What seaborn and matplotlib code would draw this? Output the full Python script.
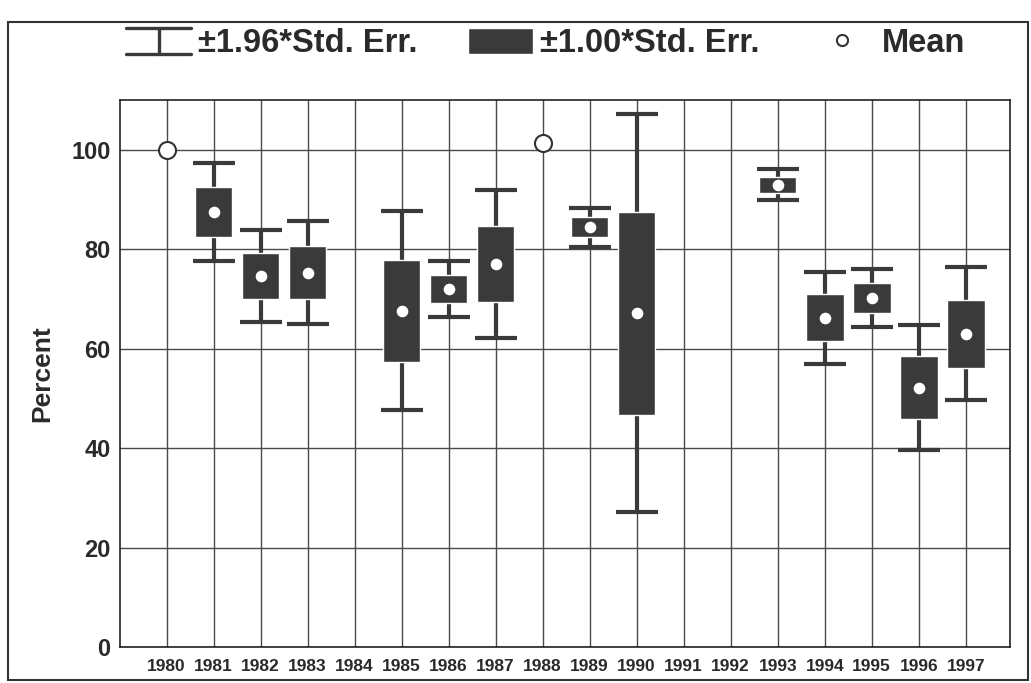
import numpy as np
import pandas as pd
import seaborn as sns
import matplotlib.pyplot as plt
from matplotlib.patches import Patch, Rectangle
from matplotlib.lines import Line2D
from matplotlib.legend_handler import HandlerBase

nan = np.nan
years = [str(y) for y in range(1980, 1998)]
means = [100.0, 87.4, 74.6, 75.3, nan, 67.6, 72.0, 77.0, 101.3, 84.4,
         67.1, nan, nan, 92.9, 66.2, 70.2, 52.2, 63.0]
std_err = [nan, 5.0, 4.7, 5.3, nan, 10.2, 2.9, 7.6, nan, 2.0,
           20.4, nan, nan, 1.6, 4.7, 3.0, 6.4, 6.8]

df = pd.DataFrame({'year': years, 'mean': means, 'se': std_err})
df['pos'] = np.arange(len(df))
boxed = df.dropna(subset=['se'])
only_mean = df[df['se'].isna() & df['mean'].notna()]

sns.set_style('whitegrid', {'grid.color': '#4a4a4a', 'axes.edgecolor': '#222222'})
plt.rcParams['font.family'] = ['Liberation Sans', 'DejaVu Sans']

box_col = '#3a3a3a'
txt_col = '#2a2a2a'


class CapHandler(HandlerBase):
    # the "I" shaped whisker glyph of the legend
    def create_artists(self, legend, orig_handle, xd, yd, w, h, fontsize, trans):
        kw = dict(color=box_col, linewidth=2.4, transform=trans)
        x0, x1 = -xd, -xd + w
        y0, y1 = -yd, -yd + h
        xm = (x0 + x1) / 2
        return [Line2D([x0, x1], [y1, y1], **kw),
                Line2D([x0, x1], [y0, y0], **kw),
                Line2D([xm, xm], [y0, y1], **kw)]


fig = plt.figure(figsize=(10.31, 6.83), dpi=100)
ax = fig.add_axes([0.116, 0.052, 0.864, 0.802])

# whiskers +-1.96 se
ax.errorbar(boxed['pos'], boxed['mean'], yerr=1.96 * boxed['se'], fmt='none',
            ecolor=box_col, elinewidth=3, capsize=15, capthick=3, zorder=3)
# boxes +-1 se
ax.bar(boxed['pos'], 2 * boxed['se'], bottom=boxed['mean'] - boxed['se'],
       width=0.8, color=box_col, zorder=4)
# means
sns.scatterplot(data=boxed, x='pos', y='mean', ax=ax, color='white', s=70,
                linewidth=0, zorder=5)
sns.scatterplot(data=only_mean, x='pos', y='mean', ax=ax, color='white', s=150,
                edgecolor='#333333', linewidth=1.5, zorder=5)

ax.set_xlim(-1, 17.95)
ax.set_ylim(0, 110)
ax.set_xticks(df['pos'])
ax.set_xticklabels(years, fontsize=12.5, fontweight='bold', color=txt_col)
ax.set_yticks([0, 20, 40, 60, 80, 100])
ax.set_yticklabels(['0', '20', '40', '60', '80', '100'], fontsize=17,
                   fontweight='bold', color=txt_col)
ax.tick_params(axis='y', pad=3)
ax.tick_params(axis='x', pad=5)
ax.grid(True, color='#4a4a4a', linewidth=1)
for s in ax.spines.values():
    s.set_linewidth(1.2)
ax.set_xlabel('')
ax.set_ylabel('Percent', fontsize=19, fontweight='bold', color=txt_col, labelpad=12)

whisk_handle = Line2D([], [])
handles = [
    whisk_handle,
    Patch(facecolor=box_col),
    Line2D([], [], marker='o', color='none', markerfacecolor='white',
           markeredgecolor='#333333', markeredgewidth=1.5, markersize=8),
]
fig.legend(handles, ['±1.96*Std. Err.', '±1.00*Std. Err.', 'Mean'],
           handler_map={whisk_handle: CapHandler()},
           loc='center', bbox_to_anchor=(0.529, 0.936), ncol=3, frameon=False,
           prop={'size': 23.5, 'weight': 'bold'}, labelcolor=txt_col,
           handlelength=2.0, handleheight=0.83, columnspacing=1.55,
           handletextpad=0.2, borderpad=0.1)

fig.patches.append(Rectangle((0.008, 0.005), 0.989, 0.963, transform=fig.transFigure,
                             fill=False, linewidth=1.5, edgecolor='#333333'))

fig.savefig('out.png', dpi=100)
